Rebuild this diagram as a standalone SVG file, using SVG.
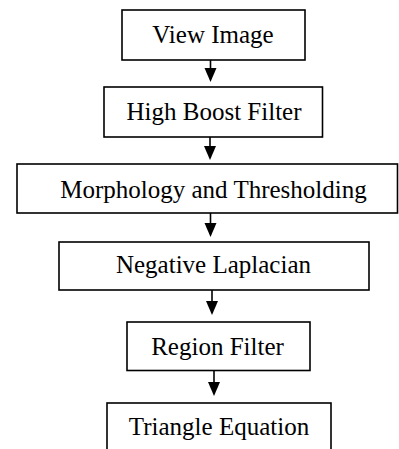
<svg xmlns="http://www.w3.org/2000/svg" width="399" height="449" viewBox="0 0 399 449">
<style>
.box{fill:#fff;stroke:#000;stroke-width:1.6}
.lbl{font-family:"Liberation Serif","Times New Roman",serif;font-size:25px;fill:#000;text-anchor:middle}
.ln{stroke:#000;stroke-width:1.6;fill:none}
.hd{fill:#000}
</style>
<rect width="399" height="449" fill="#fff"/>
<g id="connectors">
<line class="ln" x1="210.5" y1="54" x2="210.5" y2="69"/><polygon class="hd" points="204.5,68 216.5,68 210.5,82"/>
<line class="ln" x1="210" y1="131" x2="210" y2="147"/><polygon class="hd" points="204,146 216,146 210,160"/>
<line class="ln" x1="210.5" y1="207" x2="210.5" y2="224"/><polygon class="hd" points="204.5,223 216.5,223 210.5,237"/>
<line class="ln" x1="212" y1="284" x2="212" y2="302"/><polygon class="hd" points="206,301 218,301 212,315"/>
<line class="ln" x1="214" y1="365" x2="214" y2="383"/><polygon class="hd" points="208,382 220,382 214,396"/>
</g>
<g id="n1"><rect class="box" x="122" y="10" width="183" height="50"/><text class="lbl" x="213" y="43">View Image</text></g>
<g id="n2"><rect class="box" x="104" y="87" width="218.5" height="50"/><text class="lbl" x="214" y="119.5">High Boost Filter</text></g>
<g id="n3"><rect class="box" x="17" y="164" width="380.5" height="49"/><text class="lbl" x="213.5" y="197.5">Morphology and Thresholding</text></g>
<g id="n4"><rect class="box" x="59" y="242" width="310" height="48"/><text class="lbl" x="213.5" y="272.5">Negative Laplacian</text></g>
<g id="n5"><rect class="box" x="127" y="322" width="183" height="48.5"/><text class="lbl" x="217.5" y="355">Region Filter</text></g>
<g id="n6"><rect class="box" x="107" y="403" width="224" height="60"/><text class="lbl" x="219" y="435">Triangle Equation</text></g>
</svg>
